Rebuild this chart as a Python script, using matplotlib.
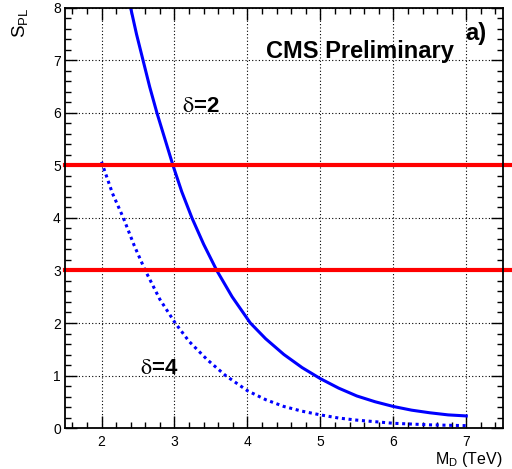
import matplotlib
matplotlib.use('Agg')
import matplotlib.pyplot as plt
from matplotlib.ticker import MultipleLocator

# delta = 2 curve (solid)
md_d2 = [2.40, 2.48, 2.57, 2.66, 2.76, 2.87, 2.98, 3.10, 3.24, 3.40, 3.58, 3.79, 4.04,
         4.25, 4.5, 4.75, 5.0, 5.25, 5.5, 5.75, 6.0, 6.25, 6.5, 6.75, 7.0]
spl_d2 = [8.0, 7.5, 7.0, 6.5, 6.0, 5.5, 5.0, 4.5, 4.0, 3.5, 3.0, 2.5, 2.0,
          1.70, 1.40, 1.15, 0.94, 0.76, 0.61, 0.50, 0.41, 0.34, 0.29, 0.25, 0.23]

# delta = 4 curve (dotted)
md_d4 = [2.0, 2.15, 2.3, 2.45, 2.6, 2.8, 3.01, 3.2, 3.45, 3.7, 4.0, 4.25, 4.5,
         4.75, 5.0, 5.25, 5.5, 6.0, 6.5, 7.0]
spl_d4 = [5.07, 4.47, 4.0, 3.47, 3.0, 2.45, 2.0, 1.65, 1.3, 1.0, 0.71, 0.54, 0.41,
          0.32, 0.25, 0.19, 0.15, 0.09, 0.06, 0.045]

# significance thresholds (red lines)
thresholds = [5, 3]

plt.rcParams['font.family'] = ['Liberation Sans', 'DejaVu Sans']
plt.rcParams['mathtext.default'] = 'regular'

fig = plt.figure(figsize=(5.12, 4.69), dpi=100)
ax = fig.add_axes([0.127, 0.0874, 0.855, 0.8956])

ax.plot(md_d2, spl_d2, color='#0000ff', lw=2.2)
ax.plot(md_d4, spl_d4, color='#0000ff', lw=2.2, linestyle=(0, (1, 1.2)),
        dash_capstyle='butt')

for t in thresholds:
    ax.axhline(t, xmin=0, xmax=1.03, color='#ff0000', lw=3, clip_on=False)

ax.set_xlim(1.5, 7.5)
ax.set_ylim(0, 8)
ax.xaxis.set_major_locator(MultipleLocator(1))
ax.xaxis.set_minor_locator(MultipleLocator(0.2))
ax.yaxis.set_major_locator(MultipleLocator(1))
ax.yaxis.set_minor_locator(MultipleLocator(0.2))

ax.tick_params(which='both', direction='in', top=True, right=True, width=1)
ax.tick_params(which='major', length=8.5, labelsize=10)
ax.tick_params(which='minor', length=4.3)
ax.tick_params(axis='x', pad=5)
ax.tick_params(axis='y', pad=3)
for s in ax.spines.values():
    s.set_linewidth(1.3)

ax.grid(True, which='major', color='black', linestyle=(0, (1, 2)), lw=0.8)

ax.set_ylabel(r'S$_{PL}$', fontsize=13.5, loc='top')
ax.yaxis.set_label_coords(-0.08, 1.0)
ax.set_xlabel(r'M$_{D}$ (TeV)', fontsize=11.5, loc='right')
ax.xaxis.set_label_coords(1.0, -0.052)

ax.text(4.26, 7.05, 'CMS Preliminary', fontsize=17, fontweight='bold')
ax.text(6.99, 7.39, 'a)', fontsize=17, fontweight='bold')
ax.text(3.11, 6.02, r'$\mathrm{\delta}$=2', fontsize=16, fontweight='bold',
        math_fontfamily='stix')
ax.text(2.53, 1.03, r'$\mathrm{\delta}$=4', fontsize=16, fontweight='bold',
        math_fontfamily='stix')

fig.savefig('out.png', dpi=100)
